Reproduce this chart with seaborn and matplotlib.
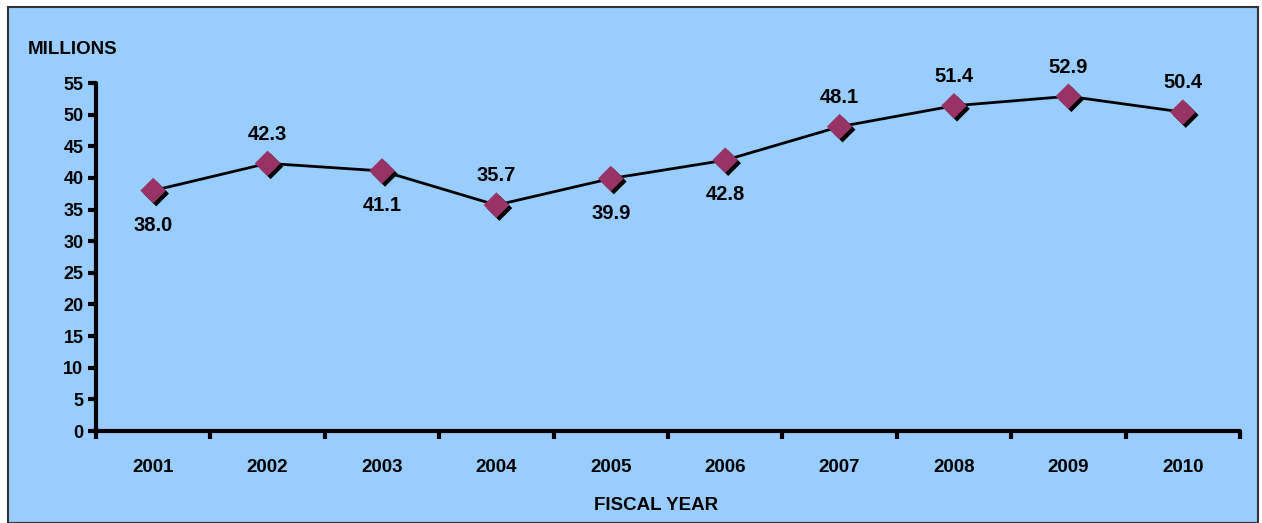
import matplotlib
matplotlib.use("Agg")
import matplotlib.pyplot as plt
import matplotlib.transforms as mtransforms
from matplotlib.patches import Rectangle
import seaborn as sns
import pandas as pd

years = ["2001", "2002", "2003", "2004", "2005", "2006", "2007", "2008", "2009", "2010"]
values = [38.0, 42.3, 41.1, 35.7, 39.9, 42.8, 48.1, 51.4, 52.9, 50.4]
label_above = [False, True, False, True, False, False, True, True, True, True]
yticks = [0, 5, 10, 15, 20, 25, 30, 35, 40, 45, 50, 55]

sns.set_theme(style="white")
plt.rcParams['font.family'] = ['Liberation Sans Narrow', 'Liberation Sans', 'DejaVu Sans']
plt.rcParams['font.weight'] = 'bold'
plt.rcParams['text.color'] = 'black'
plt.rcParams['xtick.color'] = 'black'
plt.rcParams['ytick.color'] = 'black'

df = pd.DataFrame({"year": years, "x": range(len(years)), "value": values})

W, H = 1262, 523
fig = plt.figure(figsize=(W / 100, H / 100), dpi=100, facecolor="white")
fig.patches.append(Rectangle((8 / W, 0), 1250 / W, 1 - 7 / H, transform=fig.transFigure,
                             facecolor="#99CCFF", edgecolor="#333333", linewidth=1.5, zorder=-10))
ax = fig.add_axes([96 / W, 1 - 431 / H, (1240 - 96) / W, (431 - 83) / H])
ax.set_zorder(5)
ax.set_facecolor("none")

sns.lineplot(data=df, x="x", y="value", color="black", linewidth=2, ax=ax, zorder=2)
shadow = ax.transData + mtransforms.ScaledTranslation(3 / 100, -3 / 100, fig.dpi_scale_trans)
sns.scatterplot(data=df, x="x", y="value", marker="D", s=170, color="black",
                edgecolor="none", linewidth=0, ax=ax, transform=shadow, zorder=3)
sns.scatterplot(data=df, x="x", y="value", marker="D", s=170, color="#993366",
                edgecolor="none", linewidth=0, ax=ax, zorder=4)

for i, (v, up) in enumerate(zip(values, label_above)):
    ax.annotate(f"{v:.1f}", (i, v), xytext=(0, 21 if up else -25), textcoords="offset points",
                ha="center", va="center", fontsize=14.5, fontweight="bold", color="black")

ax.set_xlim(-0.5, len(years) - 0.5)
ax.set_ylim(0, 55)
ax.set_yticks(yticks)
ax.set_yticklabels([str(t) for t in yticks], fontsize=13, fontweight="bold")
ax.set_xticks([i - 0.5 for i in range(len(years) + 1)])
ax.set_xticklabels([])
ax.set_xticks(range(len(years)), minor=True)
ax.set_xticklabels(years, minor=True, fontsize=13.5, fontweight="bold")
ax.tick_params(axis="x", which="minor", bottom=True, length=0, pad=20)
ax.tick_params(axis="x", which="major", bottom=True, length=6, width=3, direction="out", color="black")
ax.tick_params(axis="y", left=True, length=6, width=3, direction="out", color="black", pad=3)
for s in ["top", "right"]:
    ax.spines[s].set_visible(False)
for s in ["left", "bottom"]:
    ax.spines[s].set_linewidth(3)
    ax.spines[s].set_color("black")
    ax.spines[s].set_capstyle("round")

ax.set_xlabel("")
ax.set_ylabel("")
fig.text(28 / W, 1 - 50 / H, "MILLIONS", ha="left", va="center", fontsize=13.5, fontweight="bold")
fig.text(656 / W, 1 - 506 / H, "FISCAL YEAR", ha="center", va="center", fontsize=13.5, fontweight="bold")

fig.savefig("out.png", dpi=100, facecolor="white")
